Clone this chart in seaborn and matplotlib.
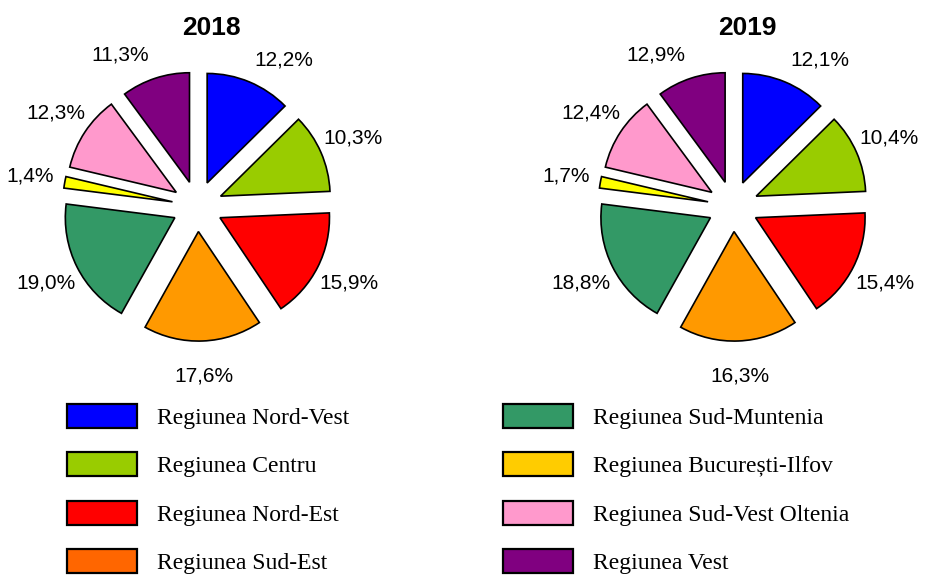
import math

import matplotlib
matplotlib.use("Agg")
import matplotlib.pyplot as plt
from matplotlib.patches import Patch
import seaborn as sns

# data
regions = [
    "Regiunea Nord-Vest", "Regiunea Centru", "Regiunea Nord-Est", "Regiunea Sud-Est",
    "Regiunea Sud-Muntenia", "Regiunea București-Ilfov", "Regiunea Sud-Vest Oltenia", "Regiunea Vest",
]
# printed percentages
labels_2018 = ["12,2%", "10,3%", "15,9%", "17,6%", "19,0%", "1,4%", "12,3%", "11,3%"]
labels_2019 = ["12,1%", "10,4%", "15,4%", "16,3%", "18,8%", "1,7%", "12,4%", "12,9%"]
# slice sizes as drawn (both pies in the source are drawn with the same slices)
slices_2018 = [12.6, 11.7, 16.3, 17.5, 18.9, 1.7, 11.2, 10.1]
slices_2019 = [12.6, 11.7, 16.3, 17.5, 18.9, 1.7, 11.2, 10.1]

pie_colors = ["#0000FF", "#99CC00", "#FF0000", "#FF9900", "#339966", "#FFFF00", "#FF99CC", "#800080"]
legend_colors = ["#0000FF", "#99CC00", "#FF0000", "#FF6600", "#339966", "#FFCC00", "#FF99CC", "#800080"]

# the top labels are pushed sideways, away from the title (degrees)
label_turn = [-8, 0, 0, 0, 0, 0, 0, 9]

sns.set_style("white")
plt.rcParams['font.family'] = ['Liberation Sans', 'DejaVu Sans']
plt.rcParams['text.color'] = 'black'

W, H = 928, 575
fig = plt.figure(figsize=(W / 100, H / 100), dpi=100)

R_PX = 109.5   # pie radius in pixels
HALF = 170     # half size of each pie axes in pixels


def add_pie(cx, cy, values, labels, title):
    ax = fig.add_axes([(cx - HALF) / W, (H - cy - HALF) / H, 2 * HALF / W, 2 * HALF / H])
    wedges, texts = ax.pie(values, colors=pie_colors, startangle=90, counterclock=False,
                           explode=[0.231] * len(values), labels=labels, labeldistance=1.32,
                           wedgeprops=dict(edgecolor="black", linewidth=1.2),
                           textprops=dict(fontsize=15, color="black"))
    for t, turn in zip(texts, label_turn):
        x, y = t.get_position()
        a = math.radians(turn)
        t.set_position((x * math.cos(a) - y * math.sin(a), x * math.sin(a) + y * math.cos(a)))
        t.set_ha("center")
        t.set_va("center")
    lim = HALF / R_PX
    ax.set_xlim(-lim, lim)
    ax.set_ylim(-lim, lim)
    ax.set_aspect("equal")
    ax.axis("off")
    fig.text((cx + 14.5) / W, 1 - 35 / H, title, ha="center", va="baseline",
             fontsize=19, fontweight="bold")


add_pie(197.4, 206.3, slices_2018, labels_2018, "2018")
add_pie(733.0, 206.3, slices_2019, labels_2019, "2019")

handles = [Patch(facecolor=c, edgecolor="black", linewidth=1.6) for c in legend_colors]
fig.legend(handles, regions, ncol=2, loc="upper left", bbox_to_anchor=(67 / W, 1 - 404 / H),
           frameon=False, borderpad=0, borderaxespad=0,
           handlelength=2.96, handleheight=1.19, handletextpad=0.85,
           columnspacing=6.5, labelspacing=0.99,
           prop={"family": "Liberation Serif", "size": 17})

fig.savefig("out.png", dpi=100)
